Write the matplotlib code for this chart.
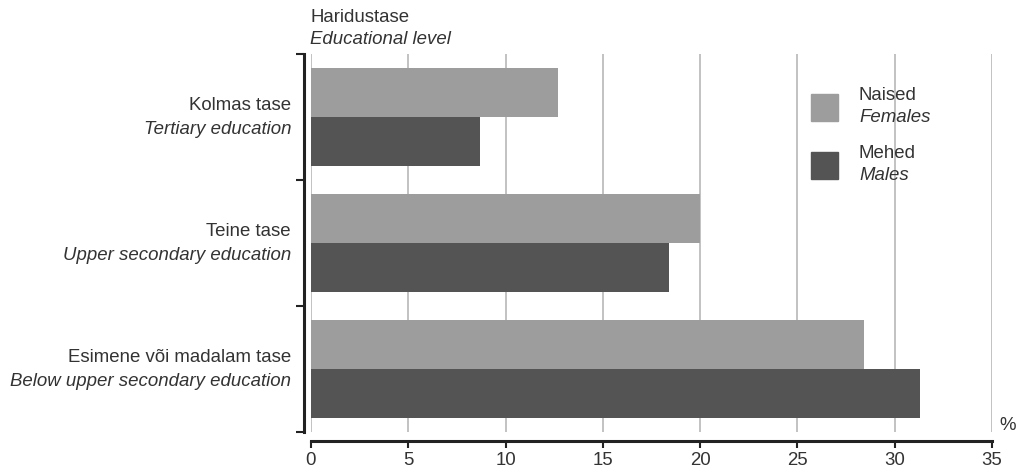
import matplotlib.pyplot as plt
import matplotlib.transforms as mtransforms
from matplotlib.patches import Rectangle
import numpy as np

plt.rcParams['font.family'] = ['Liberation Sans', 'DejaVu Sans']

cats_et = ["Kolmas tase", "Teine tase", "Esimene või madalam tase"]
cats_en = ["Tertiary education", "Upper secondary education", "Below upper secondary education"]
females = [12.7, 20.0, 28.4]
males = [8.7, 18.4, 31.3]
xticks = [0, 5, 10, 15, 20, 25, 30, 35]

c_fem = "#9d9d9d"
c_mal = "#545454"
c_ax = "#222222"
c_txt = "#333333"
fs = 13.4

fig = plt.figure(figsize=(10.19, 4.70), dpi=100)
ax = fig.add_axes([311 / 1019, 1 - 432 / 470, 681 / 1019, 378 / 470])

y = np.arange(len(cats_et))
h = 0.387
ax.barh(y - h / 2, females, height=h, color=c_fem, zorder=2)
ax.barh(y + h / 2, males, height=h, color=c_mal, zorder=2)

ax.set_xlim(0, 35)
ax.set_ylim(2.5, -0.5)
ax.set_xticks(xticks)
ax.set_xticklabels([str(v) for v in xticks])
ax.xaxis.grid(True, color="#b8b8b8", linewidth=1.2, zorder=0)
for gl in ax.get_xgridlines():
    gl.set_clip_on(False)
ax.set_axisbelow(True)

ax.set_yticks([-0.5, 0.5, 1.5, 2.5])
ax.set_yticklabels([])
ax.tick_params(axis="y", length=6, width=1.5, color=c_ax)
ax.tick_params(axis="x", length=5, width=1.5, color=c_ax, pad=3,
               labelsize=fs, labelcolor=c_txt)

for s in ["top", "right"]:
    ax.spines[s].set_visible(False)
ax.spines["left"].set_position(("outward", 5))
ax.spines["left"].set_linewidth(2.2)
ax.spines["left"].set_color(c_ax)
ax.spines["bottom"].set_position(("outward", 6.5))
ax.spines["bottom"].set_linewidth(2.2)
ax.spines["bottom"].set_color(c_ax)

# category labels, two lines
trans = mtransforms.blended_transform_factory(fig.transFigure, ax.transData)
for i in range(len(cats_et)):
    off_up = mtransforms.offset_copy(trans, fig=fig, x=0, y=12, units="dots")
    off_dn = mtransforms.offset_copy(trans, fig=fig, x=0, y=-12, units="dots")
    ax.text(291 / 1019, i, cats_et[i], transform=off_up, ha="right", va="center",
            fontsize=fs, color=c_txt)
    ax.text(291 / 1019, i, cats_en[i], transform=off_dn, ha="right", va="center",
            fontsize=fs, color=c_txt, style="italic")

# header
fig.text(310 / 1019, 1 - 18 / 470, "Haridustase", ha="left", va="center", fontsize=fs, color=c_txt)
fig.text(310 / 1019, 1 - 40 / 470, "Educational level", ha="left", va="center", fontsize=fs,
         color=c_txt, style="italic")
fig.text(999 / 1019, 1 - 425 / 470, "%", ha="left", va="center", fontsize=fs, color=c_txt)

# legend
for (y0, col, et, en) in [(94, c_fem, "Naised", "Females"), (152, c_mal, "Mehed", "Males")]:
    fig.patches.append(Rectangle((811 / 1019, 1 - (y0 + 27) / 470), 27 / 1019, 27 / 470,
                                 transform=fig.transFigure, color=col, zorder=3))
    fig.text(859 / 1019, 1 - (y0 + 1) / 470, et, ha="left", va="center", fontsize=fs, color=c_txt)
    fig.text(859 / 1019, 1 - (y0 + 23) / 470, en, ha="left", va="center", fontsize=fs,
             color=c_txt, style="italic")

fig.savefig("out.png", dpi=100, facecolor="white")
